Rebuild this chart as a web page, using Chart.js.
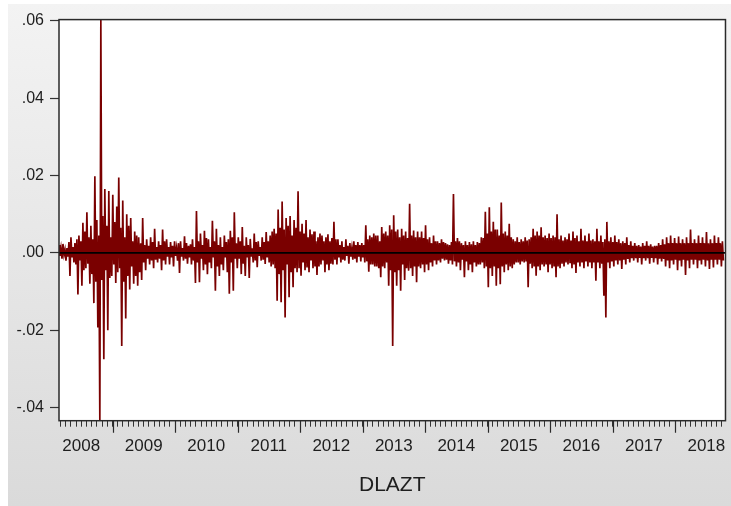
<!DOCTYPE html>
<html>
<head>
<meta charset="utf-8">
<script src="https://cdn.jsdelivr.net/npm/chart.js@4.4.1/dist/chart.umd.min.js"></script>
<style>
  html, body { margin: 0; padding: 0; background: #ffffff; }
  #wrap { position: absolute; left: 8px; top: 4px; width: 723px; height: 502px; }
</style>
</head>
<body>
<div id="wrap"><canvas id="c" width="723" height="502"></canvas></div>
<script>
// Series name shown under the time axis
const seriesName = 'DLAZT';

// Year labels, each centred on its calendar year
const yearLabels = ['2008', '2009', '2010', '2011', '2012', '2013', '2014', '2015', '2016', '2017', '2018'];

// Value-axis tick marks
const yTickValues = [-0.04, -0.02, 0.00, 0.02, 0.04, 0.06];
const yMin = -0.0434;
const yMax = 0.0603;

// Sample timing (decimal years)
const sampleStart = 2008.144;
const sampleStep = 0.015935;
const sampleEnd = 2018.806;

// DLAZT observations in time order, in units of 0.0001
const dlaztBp = [
  20,-8, 12,-15, 23,-5, 8,-20, 12,-10,   28,-60, 40,-12, 15,-25, 25,-30, 35,-108,
  45,-20, 30,-85, 78,-45, 55,-40, 105,-28,   40,-80, 70,-55, 35,-130, 198,-75, 85,-193,
  45,-434, 603,-70, 95,-275, 165,-45, 70,-200,   160,-65, 40,-60, 150,-30, 80,-78, 120,-50,
  195,-40, 65,-241, 135,-75, 40,-170, 100,-60,   70,-95, 90,-35, 30,-80, 55,-60, 45,-85,
  40,-50, 25,-70, 90,-25, 20,-45, 35,-15,   18,-30, 40,-20, 28,-40, 62,-18, 15,-25,
  30,-15, 20,-45, 60,-20, 30,-30, 35,-10,   15,-30, 28,-12, 18,-35, 30,-8, 12,-20,
  25,-52, 30,-10, 12,-20, 43,-15, 25,-28,   18,-12, 22,-30, 35,-20, 15,-78, 108,-25,
  30,-76, 50,-15, 20,-45, 57,-30, 38,-55,   35,-25, 15,-40, 83,-12, 30,-98, 62,-35,
  20,-60, 40,-30, 15,-45, 45,-12, 28,-50,   35,-106, 57,-25, 40,-98, 105,-15, 25,-40,
  40,-15, 30,-55, 67,-28, 18,-60, 40,-12,   20,-65, 36,-10, 12,-25, 50,-20, 28,-37,
  30,-8, 15,-20, 40,-18, 28,-29, 54,-12,   30,-25, 45,-35, 55,-30, 62,-40, 50,-124,
  112,-55, 65,-128, 133,-45, 60,-167, 90,-30,   70,-115, 95,-50, 45,-89, 85,-40, 65,-50,
  159,-40, 55,-59, 75,-25, 50,-45, 85,-38,   40,-50, 60,-20, 48,-40, 55,-35, 30,-57,
  40,-35, 50,-30, 45,-20, 30,-50, 40,-30,   48,-45, 30,-28, 38,-30, 80,-18, 35,-30,
  35,-12, 20,-25, 30,-18, 15,-20, 35,-8,   18,-28, 25,-10, 12,-18, 30,-15, 20,-25,
  28,-10, 20,-22, 25,-12, 20,-25, 71,-22,   35,-49, 45,-30, 40,-30, 50,-35, 45,-35,
  45,-40, 30,-63, 67,-35, 50,-40, 55,-25,   45,-85, 71,-45, 60,-241, 97,-50, 55,-85,
  60,-45, 40,-98, 62,-30, 45,-70, 55,-40,   38,-46, 127,-40, 45,-60, 58,-35, 40,-76,
  55,-35, 40,-40, 55,-30, 38,-50, 71,-30,   35,-45, 40,-25, 25,-35, 45,-20, 30,-30,
  30,-20, 25,-25, 35,-15, 28,-20, 25,-18,   22,-28, 20,-20, 28,-30, 152,-22, 30,-35,
  38,-25, 30,-45, 25,-18, 20,-63, 30,-22,   20,-45, 28,-30, 22,-50, 30,-25, 20,-35,
  28,-30, 25,-30, 40,-25, 38,-40, 106,-35,   50,-89, 118,-40, 55,-60, 80,-35, 60,-85,
  60,-40, 45,-81, 130,-35, 50,-50, 55,-30,   45,-45, 75,-35, 40,-40, 35,-30, 30,-25,
  40,-25, 28,-30, 35,-22, 30,-25, 40,-22,   32,-89, 35,-28, 40,-40, 62,-35, 45,-59,
  55,-35, 45,-45, 66,-30, 40,-35, 45,-30,   38,-50, 50,-30, 38,-40, 45,-35, 40,-63,
  100,-35, 35,-40, 45,-28, 32,-35, 40,-25,   35,-30, 50,-25, 32,-40, 55,-30, 38,-52,
  45,-25, 30,-35, 62,-25, 32,-40, 45,-22,   30,-35, 50,-25, 32,-40, 35,-25, 30,-72,
  62,-25, 30,-40, 45,-28, 28,-111, 35,-167,   80,-25, 30,-40, 40,-22, 28,-35, 45,-20,
  28,-30, 35,-20, 25,-42, 30,-18, 25,-30,   40,-16, 20,-25, 30,-14, 18,-20, 25,-14,
  18,-25, 20,-13, 16,-30, 25,-14, 18,-20,   30,-14, 18,-28, 22,-13, 16,-25, 18,-14,
  18,-30, 25,-15, 20,-22, 35,-16, 22,-35,   40,-20, 25,-40, 45,-20, 25,-30, 38,-18,
  25,-45, 42,-20, 25,-35, 35,-18, 25,-57,   40,-20, 25,-40, 60,-18, 25,-30, 35,-18,
  25,-40, 45,-20, 25,-30, 40,-18, 25,-35,   54,-20, 25,-42, 35,-18, 25,-38, 45,-18,
  25,-30, 40,-18, 25,-35, 30,-20
];

const FONT = '"Liberation Sans", Arial, Helvetica, sans-serif';
const TEXT = '#1e1e1e';

const points = dlaztBp.map((v, i) => ({ x: sampleStart + i * sampleStep, y: v / 10000 }));

function fmtY(v) {
  const s = Math.abs(v).toFixed(2).replace(/^0/, '');
  return (v < -1e-9 ? '-' : '') + s;
}

// Grey panel behind the whole graph
const panelBackground = {
  id: 'panelBackground',
  beforeDraw(chart) {
    const { ctx, width, height } = chart;
    const g = ctx.createLinearGradient(0, 0, 0, height);
    g.addColorStop(0, '#f3f3f3');
    g.addColorStop(1, '#dadada');
    ctx.save();
    ctx.fillStyle = g;
    ctx.fillRect(0, 0, width, height);
    const a = chart.chartArea;
    ctx.fillStyle = '#ffffff';
    ctx.fillRect(a.left, a.top, a.right - a.left, a.bottom - a.top);
    ctx.restore();
  }
};

// Plot frame and the longer year-boundary ticks
const frameAndYears = {
  id: 'frameAndYears',
  afterDraw(chart) {
    const { ctx } = chart;
    const a = chart.chartArea;
    const xs = chart.scales.x;
    ctx.save();
    ctx.strokeStyle = '#2a2a2a';
    ctx.lineWidth = 1.5;
    ctx.strokeRect(a.left, a.top, a.right - a.left, a.bottom - a.top);
    ctx.lineWidth = 1.2;
    ctx.beginPath();
    for (let i = 1; i < yearLabels.length; i++) {
      const px = Math.round(xs.getPixelForValue(Number(yearLabels[i]))) + 0.5;
      ctx.moveTo(px, a.bottom);
      ctx.lineTo(px, a.bottom + 12);
    }
    ctx.stroke();
    ctx.restore();
  }
};

new Chart(document.getElementById('c'), {
  type: 'line',
  data: {
    datasets: [
      {
        label: 'zero',
        data: [{ x: sampleStart, y: 0 }, { x: sampleEnd, y: 0 }],
        borderColor: '#000000',
        borderWidth: 1.6,
        pointRadius: 0,
        order: 0
      },
      {
        label: seriesName,
        data: points,
        borderColor: '#7a0000',
        borderWidth: 1.7,
        pointRadius: 0,
        tension: 0,
        order: 1
      }
    ]
  },
  options: {
    responsive: false,
    animation: false,
    devicePixelRatio: 1,
    parsing: false,
    layout: { padding: { left: 0, right: 3, top: 15.5, bottom: 0 } },
    plugins: { legend: { display: false }, tooltip: { enabled: false } },
    scales: {
      x: {
        type: 'linear',
        min: sampleStart,
        max: sampleEnd,
        offset: false,
        afterBuildTicks(scale) {
          const t = [];
          for (let y = 2008; y <= 2018; y++) {
            for (let m = 0; m < 12; m++) {
              const v = y + m / 12;
              if (v >= sampleStart && v <= sampleEnd) t.push({ value: v });
            }
          }
          scale.ticks = t;
        },
        afterFit(scale) { scale.height = 85.3; },
        grid: { drawOnChartArea: false, drawTicks: true, tickLength: 6, tickColor: '#333333', tickWidth: 1 },
        border: { display: false },
        ticks: {
          autoSkip: false,
          maxRotation: 0,
          minRotation: 0,
          padding: 9,
          color: TEXT,
          font: { family: FONT, size: 17 },
          callback(v) {
            const y = Math.floor(v + 1e-9);
            if (Math.abs(v - y - 0.5) < 1e-6) return yearLabels[y - 2008] || '';
            return '';
          }
        },
        title: {
          display: true,
          text: seriesName,
          color: TEXT,
          font: { family: FONT, size: 21 },
          padding: { top: 0, bottom: 8 }
        }
      },
      y: {
        min: yMin,
        max: yMax,
        afterBuildTicks(scale) { scale.ticks = yTickValues.map(v => ({ value: v })); },
        afterFit(scale) { scale.width = 51; },
        grid: { drawOnChartArea: false, drawTicks: true, tickLength: 9, tickColor: '#333333', tickWidth: 1.2 },
        border: { display: false },
        ticks: {
          padding: 6,
          color: TEXT,
          font: { family: FONT, size: 16 },
          callback: v => fmtY(v)
        }
      }
    }
  },
  plugins: [panelBackground, frameAndYears]
});
</script>
</body>
</html>
